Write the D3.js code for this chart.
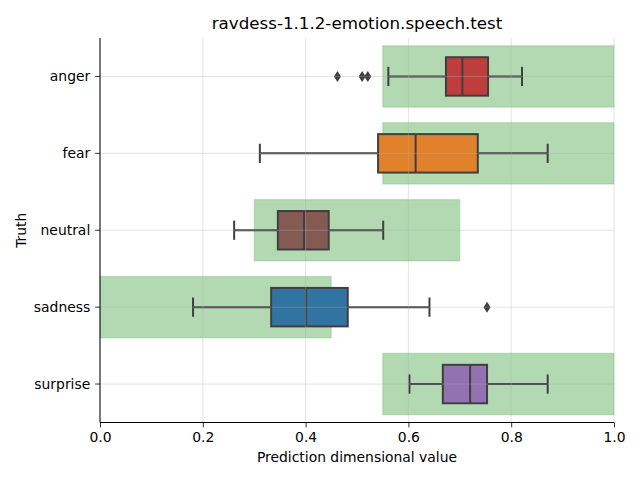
<!DOCTYPE html>
<html><head><meta charset="utf-8">
<script src="https://cdn.jsdelivr.net/npm/d3@7"></script>
<style>body{margin:0;background:#fff}svg{display:block}text{font-family:"DejaVu Sans",sans-serif}</style>
</head><body><svg id="c" width="640" height="480"></svg>
<script>
const categories = ["anger","fear","neutral","sadness","surprise"];
const colors = ["#c03d3e","#e1812c","#845b53","#3274a1","#9372b2"];
// box stats: [whiskerLow, q1, median, q3, whiskerHigh]
const whiskerLow = [0.561, 0.311, 0.261, 0.181, 0.602];
const q1         = [0.673, 0.541, 0.346, 0.333, 0.667];
const median     = [0.705, 0.614, 0.397, 0.401, 0.720];
const q3         = [0.755, 0.735, 0.445, 0.482, 0.753];
const whiskerHigh= [0.821, 0.871, 0.551, 0.641, 0.871];
const outliers   = [[0.462, 0.510, 0.521], [], [], [0.753], []];
const bandLow    = [0.55, 0.55, 0.30, 0.00, 0.55];
const bandHigh   = [1.00, 1.00, 0.70, 0.45, 1.00];
const xTicks = [0, 0.2, 0.4, 0.6, 0.8, 1.0];

const svg = d3.select("#c");
const L=100, R=614, T=38, B=422.5;
const x = d3.scaleLinear().domain([0,1]).range([L,R]);
const y = d3.scaleBand().domain(categories).range([T,B]).padding(0);
const bw = y.bandwidth();
const cy = c => y(c) + bw/2;

const data = categories.map((c,i)=>({c, col:colors[i], lo:whiskerLow[i], q1:q1[i], med:median[i], q3:q3[i], hi:whiskerHigh[i], out:outliers[i], bl:bandLow[i], bh:bandHigh[i]}));

// green bands
svg.append("g").selectAll("rect").data(data).join("rect")
  .attr("x", d=>x(d.bl)).attr("width", d=>x(d.bh)-x(d.bl))
  .attr("y", d=>cy(d.c)-0.4*bw).attr("height", 0.8*bw)
  .attr("fill","#008000").attr("fill-opacity",0.3)
  .attr("stroke","#008000").attr("stroke-opacity",0.12).attr("stroke-width",1.5);

// boxes
const g = svg.append("g");
const boxH = 0.5*bw, capH = 0.25*bw;
const edge = "#3f3f3f";
data.forEach(d=>{
  const yc = cy(d.c);
  g.append("line").attr("x1",x(d.lo)).attr("x2",x(d.q1)).attr("y1",yc).attr("y2",yc).attr("stroke",edge).attr("stroke-width",2);
  g.append("line").attr("x1",x(d.q3)).attr("x2",x(d.hi)).attr("y1",yc).attr("y2",yc).attr("stroke",edge).attr("stroke-width",2);
  [d.lo,d.hi].forEach(v=>g.append("line").attr("x1",x(v)).attr("x2",x(v)).attr("y1",yc-capH/2).attr("y2",yc+capH/2).attr("stroke",edge).attr("stroke-width",2));
  g.append("rect").attr("x",x(d.q1)).attr("width",x(d.q3)-x(d.q1)).attr("y",yc-boxH/2).attr("height",boxH)
    .attr("fill",d.col).attr("stroke",edge).attr("stroke-width",2);
  g.append("line").attr("x1",x(d.med)).attr("x2",x(d.med)).attr("y1",yc-boxH/2).attr("y2",yc+boxH/2).attr("stroke",edge).attr("stroke-width",2);
  d.out.forEach(v=>{
    const px=x(v);
    g.append("path").attr("d",`M${px},${yc-5.5}L${px+3.5},${yc}L${px},${yc+5.5}L${px-3.5},${yc}Z`).attr("fill",edge);
  });
});

// grid on top
const grid = svg.append("g").attr("stroke","#b0b0b0").attr("stroke-opacity",0.45).attr("stroke-width",0.8);
xTicks.forEach(t=>grid.append("line").attr("x1",x(t)).attr("x2",x(t)).attr("y1",T).attr("y2",B));
categories.forEach(c=>grid.append("line").attr("x1",L).attr("x2",R).attr("y1",cy(c)).attr("y2",cy(c)));

// axes
const xAxis = svg.append("g").attr("transform",`translate(0,${B})`)
  .call(d3.axisBottom(x).tickValues(xTicks).tickFormat(d3.format(".1f")).tickSize(4.86).tickPadding(4.9));
const yAxis = svg.append("g").attr("transform",`translate(${L},0)`)
  .call(d3.axisLeft(y).tickSize(4.86).tickPadding(4.9));
[xAxis,yAxis].forEach(a=>{
  a.select(".domain").attr("stroke","#000").attr("stroke-width",1);
  a.selectAll(".tick line").attr("stroke","#000").attr("stroke-width",0.8);
  a.selectAll("text").attr("font-size","13.9px").attr("fill","#000").attr("font-family","DejaVu Sans");
});
xAxis.select(".domain").attr("d",`M${L},0H${R}`);
yAxis.select(".domain").attr("d",`M0,${T}V${B}`);

svg.append("text").attr("x",(L+R)/2).attr("y",29).attr("text-anchor","middle").attr("font-size","16.7px").text("ravdess-1.1.2-emotion.speech.test");
svg.append("text").attr("x",(L+R)/2).attr("y",462).attr("text-anchor","middle").attr("font-size","13.9px").text("Prediction dimensional value");
svg.append("text").attr("transform",`translate(26,${(T+B)/2}) rotate(-90)`).attr("text-anchor","middle").attr("font-size","13.9px").text("Truth");
</script></body></html>
